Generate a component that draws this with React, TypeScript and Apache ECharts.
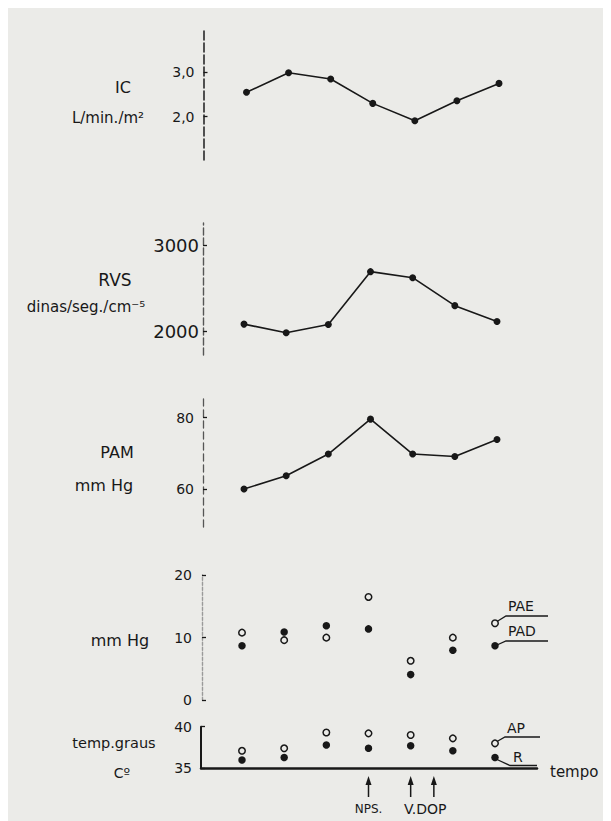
import React, { useEffect, useRef } from "react";
import * as echarts from "echarts";

// ---- data ----
const timeIndex = [0, 1, 2, 3, 4, 5, 6];
const icValues = [2.55, 2.99, 2.85, 2.3, 1.91, 2.36, 2.75];
const rvsValues = [2080, 1980, 2075, 2690, 2620, 2295, 2110];
const pamValues = [60.0, 63.7, 69.8, 79.6, 69.8, 69.1, 73.9];
const paeValues = [10.8, 9.6, 10.0, 16.5, 6.3, 10.0, 12.3];
const padValues = [8.7, 10.9, 11.9, 11.4, 4.1, 8.0, 8.7];
const apValues = [37.1, 37.4, 39.3, 39.2, 39.0, 38.6, 38.0];
const rValues = [36.0, 36.3, 37.8, 37.4, 37.7, 37.1, 36.3];

const icTicks = [2, 3];
const rvsTicks = [2000, 3000];
const pamTicks = [60, 80];
const mmHgTicks = [0, 10, 20];
const tempTicks = [35, 40];

const eventTimes = [3, 4, 4.55];
const eventLabels = ["NPS.", "V.DOP"];

const INK = "#181818";
const BG = "#ebebe8";
const FONT = "DejaVu Sans";
const OFF = 8; // page offset of the chart div

// panel layout in page pixels
type Panel = {
  axisX: number; top: number; bottom: number;
  p1: number; v1: number; p2: number; v2: number;
  x0: number; x6: number;
};
const RIGHT = 537;
const panels: Panel[] = [
  { axisX: 203.5, top: 30, bottom: 160, p1: 116.7, v1: 2, p2: 72.3, v2: 3, x0: 246.5, x6: 499 },
  { axisX: 203, top: 223, bottom: 355, p1: 331, v1: 2000, p2: 245, v2: 3000, x0: 244, x6: 497 },
  { axisX: 203, top: 398, bottom: 527, p1: 489, v1: 60, p2: 417.7, v2: 80, x0: 244, x6: 497 },
  { axisX: 202, top: 575, bottom: 700.3, p1: 700.3, v1: 0, p2: 575, v2: 20, x0: 242, x6: 495 },
  { axisX: 201, top: 726.7, bottom: 768.3, p1: 768.3, v1: 35, p2: 726.7, v2: 40, x0: 242, x6: 495 },
];

function yRange(p: Panel) {
  const k = (p.v2 - p.v1) / (p.p2 - p.p1);
  return { max: p.v1 + (p.top - p.p1) * k, min: p.v1 + (p.bottom - p.p1) * k };
}
function xRange(p: Panel) {
  const k = 6 / (p.x6 - p.x0);
  return { min: (p.axisX - p.x0) * k, max: 6 + (RIGHT - p.x6) * k };
}
const bottomX = (t: number) => panels[4].x0 + (t * (panels[4].x6 - panels[4].x0)) / 6;

const pairs = (vals: number[]) => vals.map((v, i) => [timeIndex[i], v]);

function text(x: number, y: number, s: string, size: number, align = "center", va = "middle") {
  return {
    type: "text",
    x: x - OFF,
    y: y - OFF,
    silent: true,
    style: { text: s, fill: INK, fontSize: size, fontFamily: FONT, align, verticalAlign: va },
  };
}
function poly(points: number[][], width = 1.3) {
  return {
    type: "polyline",
    silent: true,
    shape: { points: points.map(([a, b]) => [a - OFF, b - OFF]) },
    style: { stroke: INK, lineWidth: width, fill: null },
  };
}

export default function App() {
  const ref = useRef<HTMLDivElement>(null);
  useEffect(() => {
    document.documentElement.style.overflow = "hidden";
    document.body.style.overflow = "hidden";
    const chart = echarts.init(ref.current!, null, { renderer: "svg" });

    const axisStyles = [
      { color: "#2a2a2a", width: 1.6, type: [9, 3] },
      { color: "#555", width: 1.4, type: [7, 3] },
      { color: "#555", width: 1.3, type: [7, 4] },
      { color: "#9a9a9a", width: 1.4, type: [3, 2] },
      { color: INK, width: 2, type: "solid" },
    ];
    const tickSets = [icTicks, rvsTicks, pamTicks, mmHgTicks, tempTicks];
    const labelSizes = [14, 18, 14, 14, 14];
    const labelMargins = [9, 4, 9, 10, 9];
    const fmt = [
      (v: number) => v.toFixed(1).replace(".", ","),
      (v: number) => String(v),
      (v: number) => String(v),
      (v: number) => String(v),
      (v: number) => String(v),
    ];

    const grids = panels.map((p) => ({
      left: p.axisX - OFF,
      top: p.top - OFF,
      width: RIGHT - p.axisX,
      height: p.bottom - p.top,
      containLabel: false,
      outerBoundsMode: "none",
    }));
    const xAxes = panels.map((p, i) => ({
      type: "value",
      gridIndex: i,
      ...xRange(p),
      show: i === 4,
      axisLine: { show: i === 4, onZero: false, lineStyle: { color: INK, width: 2.5 } },
      axisTick: { show: false },
      axisLabel: { show: false },
      splitLine: { show: false },
    }));
    const yAxes = panels.map((p, i) => ({
      type: "value",
      gridIndex: i,
      position: "left",
      ...yRange(p),
      axisLine: { show: true, onZero: false, lineStyle: axisStyles[i] },
      axisTick: {
        show: true,
        inside: true,
        length: 4,
        customValues: tickSets[i],
        lineStyle: { color: INK, width: 1.3 },
      },
      axisLabel: {
        show: true,
        customValues: tickSets[i],
        formatter: fmt[i],
        color: INK,
        fontSize: labelSizes[i],
        fontFamily: FONT,
        margin: labelMargins[i],
      },
      splitLine: { show: false },
    }));

    const lineSeries = (vals: number[], gi: number) => ({
      type: "line",
      xAxisIndex: gi,
      yAxisIndex: gi,
      data: pairs(vals),
      symbol: "circle",
      symbolSize: 7,
      itemStyle: { color: INK, opacity: 1 },
      lineStyle: { color: INK, width: 1.6 },
      silent: true,
    });
    const dotSeries = (vals: number[], gi: number, open: boolean) => ({
      type: "scatter",
      xAxisIndex: gi,
      yAxisIndex: gi,
      data: pairs(vals),
      symbol: "circle",
      symbolSize: open ? 6.5 : 7.5,
      itemStyle: open
        ? { color: BG, borderColor: INK, borderWidth: 1.5, opacity: 1 }
        : { color: INK, opacity: 1 },
      silent: true,
    });

    const graphics: any[] = [
      // left-hand titles
      text(123, 87, "IC", 16),
      text(108, 118, "L/min./m²", 15),
      text(115, 280, "RVS", 17),
      text(86, 307, "dinas/seg./cm⁻⁵", 15),
      text(117, 452, "PAM", 16),
      text(104, 485, "mm Hg", 16),
      text(120, 640, "mm Hg", 16),
      text(114, 743, "temp.graus", 14.5),
      text(122, 773, "Cº", 14),
      // legend connectors and labels
      poly([[497, 621.5], [506, 616], [548, 616]]),
      text(508, 613, "PAE", 14, "left", "bottom"),
      poly([[497, 645], [506, 641], [548, 641]]),
      text(508, 638, "PAD", 14, "left", "bottom"),
      poly([[497, 741.5], [505, 737], [540, 737]]),
      text(507, 735, "AP", 14, "left", "bottom"),
      poly([[497, 759.5], [510, 765.5], [537, 765.5]]),
      text(513, 763.5, "R", 14, "left", "bottom"),
      text(550, 772, "tempo", 15, "left", "middle"),
    ];
    eventTimes.forEach((t) => {
      const x = bottomX(t);
      graphics.push(poly([[x, 783], [x, 797]], 1.5));
      graphics.push({
        type: "polygon",
        silent: true,
        shape: { points: [[x - OFF, 776 - OFF], [x - 3 - OFF, 785 - OFF], [x + 3 - OFF, 785 - OFF]] },
        style: { fill: INK },
      });
    });
    graphics.push(text(bottomX(eventTimes[0]), 809, eventLabels[0], 12));
    graphics.push(text((bottomX(eventTimes[1]) + bottomX(eventTimes[2])) / 2 + 3, 809, eventLabels[1], 14));

    chart.setOption({
      animation: false,
      backgroundColor: BG,
      grid: grids,
      xAxis: xAxes,
      yAxis: yAxes,
      series: [
        lineSeries(icValues, 0),
        lineSeries(rvsValues, 1),
        lineSeries(pamValues, 2),
        dotSeries(paeValues, 3, true),
        dotSeries(padValues, 3, false),
        dotSeries(apValues, 4, true),
        dotSeries(rValues, 4, false),
      ],
      graphic: graphics,
    });
    return () => chart.dispose();
  }, []);
  return <div ref={ref} style={{ width: 603, height: 813 }} />;
}
